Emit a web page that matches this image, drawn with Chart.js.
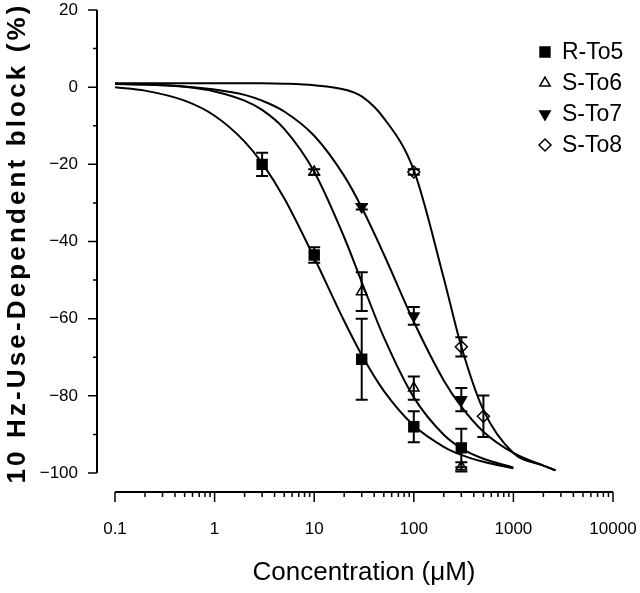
<!DOCTYPE html>
<html>
<head>
<meta charset="utf-8">
<script src="https://cdn.jsdelivr.net/npm/chart.js"></script>
<style>
  body { margin: 0; background: #fff; }
  canvas { display: block; }
</style>
</head>
<body>
<canvas id="chart" width="640" height="593"></canvas>
<script>
// measured points: concentration (uM), block (%), error (+/-)
const seriesNames = ['R-To5', 'S-To6', 'S-To7', 'S-To8'];

const r5Conc = [3, 10, 30, 100, 300];
const r5Block = [-20, -43.5, -70.5, -88, -93.5];
const r5Err = [3, 2, 10.5, 4, 5];

const s6Conc = [10, 30, 100, 300];
const s6Block = [-22, -53, -78, -98.4];
const s6Err = [0.7, 5, 3, 1.2];

const s7Conc = [30, 100, 300];
const s7Block = [-31, -59.3, -81];
const s7Err = [0.7, 2.3, 3];

const s8Conc = [100, 300, 500];
const s8Block = [-22, -67.3, -85.3];
const s8Err = [0.7, 2.5, 5.4];

// fitted curves
const fitX = [0.1, 0.2, 0.5, 1, 2, 3, 5, 10, 20, 30, 50, 100, 200, 300, 500, 1000];
const fitXLong = [0.1, 0.2, 0.5, 1, 2, 3, 5, 10, 20, 30, 50, 100, 200, 300, 500, 1000, 2000, 2650];
const fitR5 = [0.0, -0.9, -3.5, -7.4, -14.1, -19.7, -28.8, -44.2, -60.6, -69.4, -78.7, -87.7, -93.2, -95.3, -97.1, -98.8];
const fitS6 = [0.9, 0.7, 0.1, -1.1, -3.5, -5.9, -10.8, -21.9, -38.9, -50.5, -64.8, -80.4, -90.1, -93.6, -96.3, -98.6];
const fitS7 = [0.8, 0.7, 0.2, -0.6, -2.0, -3.5, -6.3, -12.6, -23.0, -31.2, -43.3, -60.8, -76.0, -82.8, -89.3, -94.8, -98.1, -99.3];
const fitS8 = [1.0, 1.0, 1.0, 1.0, 1.0, 1.0, 0.9, 0.5, -0.6, -2.4, -8.0, -21.5, -49.5, -67.2, -83.7, -94.8, -98.1, -99.3];

// axes
const xTicks = [0.1, 1, 10, 100, 1000, 10000];
const xTickLabels = ['0.1', '1', '10', '100', '1000', '10000'];
const yTicks = [-100, -80, -60, -40, -20, 0, 20];
const yTickLabels = ['\u2212100', '\u221280', '\u221260', '\u221240', '\u221220', '0', '20'];

const pts = (xs, ys) => xs.map((x, i) => ({x: x, y: ys[i]}));

function curve(xs, ys) {
    return {
        data: pts(xs, ys),
        showLine: true,
        borderColor: '#000',
        borderWidth: 2,
        pointRadius: 0,
        cubicInterpolationMode: 'monotone',
        order: 2
    };
}

const markers = [
    {style: 'rect', rot: 0, r: 7, fill: '#000', conc: r5Conc, block: r5Block, err: r5Err},
    {style: 'triangle', rot: 0, r: 6, fill: 'rgba(0,0,0,0)', conc: s6Conc, block: s6Block, err: s6Err},
    {style: 'triangle', rot: 180, r: 6, fill: '#000', conc: s7Conc, block: s7Block, err: s7Err},
    {style: 'rectRot', rot: 0, r: 6, fill: 'rgba(0,0,0,0)', conc: s8Conc, block: s8Block, err: s8Err}
];

const markerSets = markers.map((m, i) => ({
    label: seriesNames[i],
    data: pts(m.conc, m.block),
    pointStyle: m.style,
    rotation: m.rot,
    pointRadius: m.r,
    backgroundColor: m.fill,
    borderColor: '#000',
    borderWidth: 1.5,
    order: 1
}));

// error bars, drawn under the markers
const errorBars = {
    id: 'errorBars',
    beforeDatasetsDraw(chart) {
        const {ctx, scales: {x, y}} = chart;
        ctx.save();
        ctx.strokeStyle = '#000';
        ctx.lineWidth = 2;
        markers.forEach(m => {
            m.conc.forEach((c, i) => {
                const px = x.getPixelForValue(c);
                const top = y.getPixelForValue(m.block[i] + m.err[i]);
                const bot = y.getPixelForValue(m.block[i] - m.err[i]);
                ctx.beginPath();
                ctx.moveTo(px, top); ctx.lineTo(px, bot);
                ctx.moveTo(px - 6, top); ctx.lineTo(px + 6, top);
                ctx.moveTo(px - 6, bot); ctx.lineTo(px + 6, bot);
                ctx.stroke();
            });
        });
        ctx.restore();
    }
};

// axis lines sit away from the plot area, like the original figure
const offsetAxes = {
    id: 'offsetAxes',
    afterDraw(chart) {
        const {ctx, chartArea, scales: {x, y}} = chart;
        const ax = chartArea.left - 18;
        const ay = chartArea.bottom + 19;
        ctx.save();
        ctx.strokeStyle = '#000';
        ctx.lineWidth = 2;
        ctx.beginPath();
        ctx.moveTo(ax, y.getPixelForValue(20));
        ctx.lineTo(ax, y.getPixelForValue(-100));
        ctx.moveTo(x.getPixelForValue(0.1), ay);
        ctx.lineTo(x.getPixelForValue(10000), ay);
        ctx.stroke();

        ctx.lineWidth = 1.5;
        ctx.beginPath();
        for (let v = -100; v <= 20; v += 10) {
            const py = y.getPixelForValue(v);
            const len = v % 20 === 0 ? 9 : 4;
            ctx.moveTo(ax - len, py); ctx.lineTo(ax, py);
        }
        for (let d = 0.1; d < 10000; d *= 10) {
            for (let k = 1; k < 10; k++) {
                const px = x.getPixelForValue(d * k);
                const len = k === 1 ? 10 : 5;
                ctx.moveTo(px, ay); ctx.lineTo(px, ay + len);
            }
        }
        const last = x.getPixelForValue(10000);
        ctx.moveTo(last, ay); ctx.lineTo(last, ay + 10);
        ctx.stroke();

        // y axis title
        ctx.fillStyle = '#000';
        ctx.font = 'bold 26px "Liberation Sans", Arial, sans-serif';
        const txt = '10 Hz-Use-Dependent block (%)';
        const w = ctx.measureText(txt).width;
        ctx.letterSpacing = ((478 - w) / (txt.length - 1)).toFixed(2) + 'px';
        ctx.translate(18, (chartArea.top + chartArea.bottom) / 2 + 1.5);
        ctx.rotate(-Math.PI / 2);
        ctx.textAlign = 'center';
        ctx.textBaseline = 'middle';
        ctx.fillText(txt, 0, 0);
        ctx.restore();
    }
};

const legendBox = {
    id: 'legendBox',
    afterDraw(chart) {
        const {ctx} = chart;
        ctx.save();
        ctx.font = '23px "Liberation Sans", Arial, sans-serif';
        ctx.textBaseline = 'middle';
        ctx.strokeStyle = '#000';
        ctx.lineWidth = 1.5;
        markers.forEach((m, i) => {
            const ly = 52 + i * 31;
            ctx.fillStyle = m.fill;
            Chart.helpers.drawPoint(ctx, {pointStyle: m.style, rotation: m.rot, radius: m.r, borderWidth: 1.5}, 545, ly);
            ctx.fillStyle = '#000';
            ctx.fillText(seriesNames[i], 562, ly + 1);
        });
        ctx.restore();
    }
};

const tickFont = {family: '"Liberation Sans", Arial, sans-serif', size: 17, lineHeight: 1};
// invisible tick marks used only to push the labels away from the plot area
const hiddenGrid = len => ({display: true, drawOnChartArea: false, drawTicks: true, tickLength: len, color: 'rgba(0,0,0,0)'});

new Chart(document.getElementById('chart'), {
    type: 'scatter',
    data: {
        datasets: [
            ...markerSets,
            curve(fitX, fitR5),
            curve(fitX, fitS6),
            curve(fitXLong, fitS7),
            curve(fitXLong, fitS8)
        ]
    },
    options: {
        responsive: false,
        animation: false,
        layout: {padding: {left: 0, right: 27, top: 10, bottom: 0}},
        plugins: {legend: {display: false}, tooltip: {enabled: false}},
        scales: {
            x: {
                type: 'logarithmic',
                min: 0.1,
                max: 10000,
                grid: hiddenGrid(48),
                border: {display: false},
                afterBuildTicks: s => { s.ticks = xTicks.map(v => ({value: v})); },
                afterFit: s => { s.height = 120; },
                ticks: {
                    autoSkip: false,
                    maxRotation: 0,
                    padding: 0,
                    color: '#000',
                    font: tickFont,
                    callback: (v, i) => xTickLabels[i]
                },
                title: {
                    display: true,
                    text: 'Concentration (μM)',
                    color: '#000',
                    font: {family: '"Liberation Sans", Arial, sans-serif', size: 26},
                    padding: {top: 0, bottom: 5}
                }
            },
            y: {
                min: -100,
                max: 20,
                grid: hiddenGrid(37),
                border: {display: false},
                afterBuildTicks: s => { s.ticks = yTicks.map(v => ({value: v})); },
                afterFit: s => { s.width = 115; },
                ticks: {
                    padding: 0,
                    color: '#000',
                    font: tickFont,
                    callback: (v, i) => yTickLabels[i]
                }
            }
        }
    },
    plugins: [errorBars, offsetAxes, legendBox]
});
</script>
</body>
</html>
